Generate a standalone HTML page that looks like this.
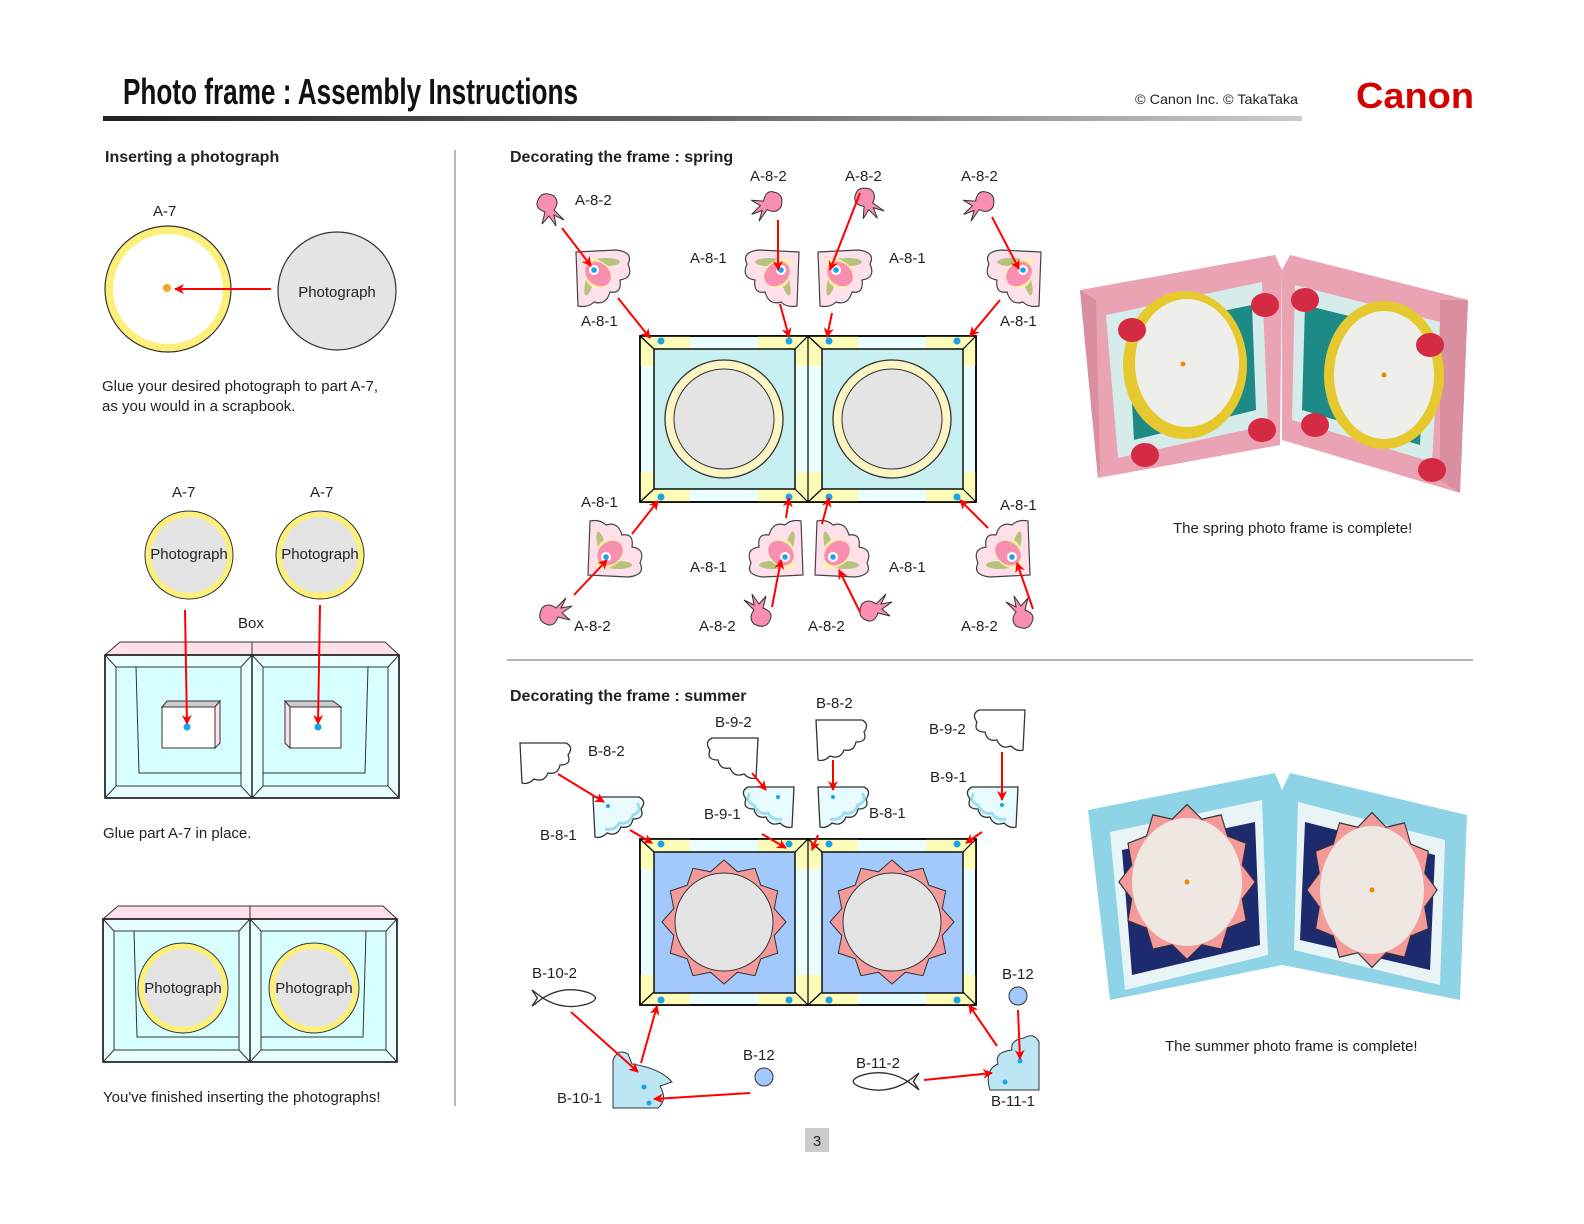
<!DOCTYPE html>
<html><head><meta charset="utf-8"><style>
html,body{margin:0;padding:0;background:#fff;}
svg{display:block;}
text{font-family:"Liberation Sans",sans-serif;fill:#222;}
.lb{font-size:15px;}
.hd{font-size:16px;font-weight:bold;font-family:"Liberation Sans Narrow","Liberation Sans",sans-serif;}
.bd{font-size:15px;}
</style></head><body>
<svg width="1584" height="1224" viewBox="0 0 1584 1224" xmlns="http://www.w3.org/2000/svg">
<defs>
<marker id="ar" markerWidth="10" markerHeight="10" refX="9" refY="5" orient="auto" markerUnits="userSpaceOnUse"><path d="M0,0 L10,5 L0,10 L3,5 Z" fill="#f00"/></marker>
<linearGradient id="ul" x1="0" x2="1"><stop offset="0" stop-color="#222"/><stop offset="0.5" stop-color="#666"/><stop offset="1" stop-color="#ccc"/></linearGradient>
<g id="flower">
<path d="M0,2 L40,0 Q58,2 52,14 Q58,28 44,30 Q46,44 34,42 Q30,56 18,52 Q12,58 2,56 Z" fill="#fde0ea" stroke="#444" stroke-width="1.2"/>
<ellipse cx="14" cy="30" rx="4" ry="16" fill="#b7c27e" transform="rotate(15 14 30)"/>
<ellipse cx="30" cy="12" rx="14" ry="4" fill="#b7c27e"/>
<path d="M8,10 Q20,4 34,18 Q40,32 26,38 Q14,40 10,30 Z" fill="#fff6a8" opacity="0.8"/>
<ellipse cx="22" cy="24" rx="14" ry="11" fill="#f98fb0" transform="rotate(40 22 24)"/>
<circle cx="18" cy="20" r="5" fill="#fff"/><circle cx="18" cy="20" r="2.8" fill="#1aa3e8"/>
</g>
<g id="bud">
<path d="M-10,-6 Q-6,-16 6,-10 Q12,-4 6,4 L16,14 L6,9 L8,20 L1,10 L-6,18 L-3,6 Q-14,2 -10,-6 Z" fill="#f98fb0" stroke="#333" stroke-width="1"/>
</g>
<g id="cloudO">
<path d="M0,0 L46,0 Q54,4 48,12 Q52,22 40,22 Q38,32 28,30 Q24,40 14,36 Q8,42 2,40 Z" fill="#fff" stroke="#333" stroke-width="1.3"/>
</g>
<g id="cloudF">
<path d="M0,0 L46,0 Q54,4 48,12 Q52,22 40,22 Q38,32 28,30 Q24,40 14,36 Q8,42 2,40 Z" fill="#e8fbff" stroke="#333" stroke-width="1.3"/>
<path d="M44,6 Q50,14 40,18 Q36,28 26,26 Q22,34 12,32" fill="none" stroke="#9fdcf0" stroke-width="3"/>
</g>
<g id="fish">
<path d="M0,0 L8,6 Q24,-4 42,2 Q52,6 42,10 Q24,16 8,6 L0,12 L4,6 Z" fill="#fff" stroke="#333" stroke-width="1"/>
</g>
<g id="fb">
<rect x="0" y="0" width="336" height="166" fill="#eafdff" stroke="#000" stroke-width="1.6"/>
<path d="M0,0 L50,0 L50,13 L14,13 L14,30 L0,30 Z M168,0 L118,0 L118,13 L155,13 L155,30 L168,30 Z M168,0 L218,0 L218,13 L182,13 L182,30 L168,30 Z M336,0 L286,0 L286,13 L323,13 L323,30 L336,30 Z" fill="#fdfbb8"/>
<path d="M0,166 L50,166 L50,153 L14,153 L14,136 L0,136 Z M168,166 L118,166 L118,153 L155,153 L155,136 L168,136 Z M168,166 L218,166 L218,153 L182,153 L182,136 L168,136 Z M336,166 L286,166 L286,153 L323,153 L323,136 L336,136 Z" fill="#fdfbb8"/>
<g fill="none" stroke="#000" stroke-width="1.2">
<rect x="0" y="0" width="336" height="166" stroke-width="1.6"/>
<line x1="168" y1="0" x2="168" y2="166"/>
<line x1="0" y1="0" x2="14" y2="13"/><line x1="168" y1="0" x2="155" y2="13"/><line x1="0" y1="166" x2="14" y2="153"/><line x1="168" y1="166" x2="155" y2="153"/>
<line x1="168" y1="0" x2="182" y2="13"/><line x1="336" y1="0" x2="323" y2="13"/><line x1="168" y1="166" x2="182" y2="153"/><line x1="336" y1="166" x2="323" y2="153"/>
</g>
<g fill="#1aa3e8"><circle cx="21" cy="5" r="3.5"/><circle cx="149" cy="5" r="3.5"/><circle cx="189" cy="5" r="3.5"/><circle cx="317" cy="5" r="3.5"/>
<circle cx="21" cy="161" r="3.5"/><circle cx="149" cy="161" r="3.5"/><circle cx="189" cy="161" r="3.5"/><circle cx="317" cy="161" r="3.5"/></g>
</g>
<polygon id="star" points="0,-62 13.5,-50.2 31,-53.7 36.8,-36.8 53.7,-31 50.2,-13.5 62,0 50.2,13.5 53.7,31 36.8,36.8 31,53.7 13.5,50.2 0,62 -13.5,50.2 -31,53.7 -36.8,36.8 -53.7,31 -50.2,13.5 -62,0 -50.2,-13.5 -53.7,-31 -36.8,-36.8 -31,-53.7 -13.5,-50.2" fill="#f59a9a" stroke="#333" stroke-width="1"/>
<g id="box">
<polygon points="0,13 15,0 147,0 147,13" fill="#ffe0ea" stroke="#333"/>
<polygon points="147,13 147,0 280,0 294,13" fill="#ffe0ea" stroke="#333"/>
<rect x="0" y="13" width="294" height="143" fill="#e8ffff" stroke="#000" stroke-width="1.5"/>
<line x1="147" y1="13" x2="147" y2="156" stroke="#000" stroke-width="1.3"/>
<rect x="11" y="25" width="125" height="119" fill="#d8ffff" stroke="#333"/>
<rect x="158" y="25" width="125" height="119" fill="#d8ffff" stroke="#333"/>
<g stroke="#333" fill="none"><line x1="0" y1="13" x2="11" y2="25"/><line x1="147" y1="13" x2="136" y2="25"/><line x1="0" y1="156" x2="11" y2="144"/><line x1="147" y1="156" x2="136" y2="144"/>
<line x1="147" y1="13" x2="158" y2="25"/><line x1="294" y1="13" x2="283" y2="25"/><line x1="147" y1="156" x2="158" y2="144"/><line x1="294" y1="156" x2="283" y2="144"/>
<polyline points="31,25 34,131 136,131"/><polyline points="263,25 260,131 158,131"/></g>
</g>
</defs>

<text x="123" y="104" font-family="'Liberation Sans Narrow','Liberation Sans',sans-serif" font-weight="bold" font-size="36" textLength="455" lengthAdjust="spacingAndGlyphs" style="fill:#111">Photo frame : Assembly Instructions</text>
<rect x="103" y="116" width="1199" height="5" fill="url(#ul)"/>
<text x="1135" y="104" font-size="14" textLength="163" lengthAdjust="spacingAndGlyphs">© Canon Inc. © TakaTaka</text>
<text x="1356" y="108" font-family="'Liberation Serif',serif" font-weight="bold" font-size="36" textLength="118" lengthAdjust="spacingAndGlyphs" style="fill:#d40000">Canon</text>

<line x1="455" y1="150" x2="455" y2="1106" stroke="#888" stroke-width="1.2"/>
<line x1="507" y1="660" x2="1473" y2="660" stroke="#888" stroke-width="1.2"/>

<text x="105" y="162" class="hd">Inserting a photograph</text>
<text x="153" y="216" class="lb">A-7</text>
<circle cx="168" cy="289" r="63" fill="#fdf07a" stroke="#333" stroke-width="1.2"/>
<circle cx="168" cy="289" r="55" fill="#fff"/>
<circle cx="167" cy="288" r="4" fill="#f5a623"/>
<line x1="271" y1="289" x2="175" y2="289" stroke="#f00" stroke-width="2" marker-end="url(#ar)"/>
<circle cx="337" cy="291" r="59" fill="#e4e4e4" stroke="#333" stroke-width="1.2"/>
<text x="337" y="297" class="bd" text-anchor="middle">Photograph</text>
<text x="102" y="391" class="bd">Glue your desired photograph to part A-7,</text>
<text x="102" y="411" class="bd">as you would in a scrapbook.</text>

<text x="172" y="497" class="lb">A-7</text><text x="310" y="497" class="lb">A-7</text>
<circle cx="189" cy="555" r="44" fill="#fdf07a" stroke="#333"/><circle cx="189" cy="555" r="38" fill="#e4e4e4"/>
<circle cx="320" cy="555" r="44" fill="#fdf07a" stroke="#333"/><circle cx="320" cy="555" r="38" fill="#e4e4e4"/>
<text x="189" y="559" class="bd" text-anchor="middle">Photograph</text>
<text x="320" y="559" class="bd" text-anchor="middle">Photograph</text>
<text x="238" y="628" class="bd">Box</text>
<use href="#box" x="105" y="642"/>
<polygon points="162,707 167,701 220,701 215,707" fill="#ccc" stroke="#333"/>
<polygon points="215,707 220,701 220,743 215,748" fill="#ffe0ea" stroke="#333"/>
<rect x="162" y="707" width="53" height="41" fill="#fff" stroke="#333"/>
<polygon points="290,707 285,701 333,701 341,707" fill="#ccc" stroke="#333"/>
<polygon points="285,701 290,707 290,748 285,743" fill="#ffe0ea" stroke="#333"/>
<rect x="290" y="707" width="51" height="41" fill="#fff" stroke="#333"/>
<line x1="185" y1="610" x2="187" y2="724" stroke="#f00" stroke-width="2" marker-end="url(#ar)"/>
<line x1="320" y1="605" x2="318" y2="724" stroke="#f00" stroke-width="2" marker-end="url(#ar)"/>
<circle cx="187" cy="727" r="3.5" fill="#1aa3e8"/><circle cx="318" cy="727" r="3.5" fill="#1aa3e8"/>
<text x="103" y="838" class="bd">Glue part A-7 in place.</text>

<use href="#box" x="103" y="906"/>
<circle cx="183" cy="988" r="45" fill="#fdf07a" stroke="#333"/><circle cx="183" cy="988" r="39" fill="#e4e4e4"/>
<circle cx="314" cy="988" r="45" fill="#fdf07a" stroke="#333"/><circle cx="314" cy="988" r="39" fill="#e4e4e4"/>
<text x="183" y="993" class="bd" text-anchor="middle">Photograph</text>
<text x="314" y="993" class="bd" text-anchor="middle">Photograph</text>
<text x="103" y="1102" class="bd">You've finished inserting the photographs!</text>

<text x="510" y="162" class="hd">Decorating the frame : spring</text>
<use href="#fb" x="640" y="336"/>
<rect x="654" y="349" width="141" height="140" fill="#c8f0f0" stroke="#000" stroke-width="1.4"/>
<rect x="822" y="349" width="141" height="140" fill="#c8f0f0" stroke="#000" stroke-width="1.4"/>
<circle cx="724" cy="419" r="59" fill="#fdf6c3" stroke="#333" stroke-width="1.3"/><circle cx="724" cy="419" r="50" fill="#e4e4e4" stroke="#333"/>
<circle cx="892" cy="419" r="59" fill="#fdf6c3" stroke="#333" stroke-width="1.3"/><circle cx="892" cy="419" r="50" fill="#e4e4e4" stroke="#333"/>

<use href="#flower" transform="translate(576,250)"/>
<use href="#flower" transform="translate(799,250) scale(-1,1)"/>
<use href="#flower" transform="translate(818,250)"/>
<use href="#flower" transform="translate(1041,250) scale(-1,1)"/>
<use href="#flower" transform="translate(588,577) scale(1,-1)"/>
<use href="#flower" transform="translate(803,577) scale(-1,-1)"/>
<use href="#flower" transform="translate(815,577) scale(1,-1)"/>
<use href="#flower" transform="translate(1030,577) scale(-1,-1)"/>

<use href="#bud" transform="translate(548,206)"/>
<use href="#bud" transform="translate(770,203) rotate(80)"/>
<use href="#bud" transform="translate(866,200) rotate(-10)"/>
<use href="#bud" transform="translate(982,203) rotate(80)"/>
<use href="#bud" transform="translate(552,614) rotate(-90)"/>
<use href="#bud" transform="translate(760,614) rotate(180)"/>
<use href="#bud" transform="translate(872,610) rotate(-90)"/>
<use href="#bud" transform="translate(1022,616) rotate(180)"/>

<g stroke="#f00" stroke-width="2" marker-end="url(#ar)">
<line x1="562" y1="228" x2="591" y2="266"/>
<line x1="618" y1="298" x2="650" y2="338"/>
<line x1="778" y1="220" x2="778" y2="270"/>
<line x1="780" y1="304" x2="789" y2="337"/>
<line x1="860" y1="193" x2="830" y2="270"/>
<line x1="832" y1="313" x2="827" y2="337"/>
<line x1="992" y1="217" x2="1019" y2="269"/>
<line x1="1000" y1="300" x2="970" y2="336"/>
<line x1="574" y1="595" x2="607" y2="560"/>
<line x1="632" y1="534" x2="658" y2="501"/>
<line x1="786" y1="518" x2="789" y2="498"/>
<line x1="772" y1="607" x2="781" y2="560"/>
<line x1="822" y1="524" x2="829" y2="498"/>
<line x1="860" y1="612" x2="839" y2="570"/>
<line x1="988" y1="528" x2="960" y2="500"/>
<line x1="1033" y1="609" x2="1017" y2="563"/>
</g>

<text x="575" y="205" class="lb">A-8-2</text><text x="750" y="181" class="lb">A-8-2</text><text x="845" y="181" class="lb">A-8-2</text><text x="961" y="181" class="lb">A-8-2</text>
<text x="690" y="263" class="lb">A-8-1</text><text x="889" y="263" class="lb">A-8-1</text>
<text x="581" y="326" class="lb">A-8-1</text><text x="1000" y="326" class="lb">A-8-1</text>
<text x="581" y="507" class="lb">A-8-1</text><text x="1000" y="510" class="lb">A-8-1</text>
<text x="690" y="572" class="lb">A-8-1</text><text x="889" y="572" class="lb">A-8-1</text>
<text x="574" y="631" class="lb">A-8-2</text><text x="699" y="631" class="lb">A-8-2</text><text x="808" y="631" class="lb">A-8-2</text><text x="961" y="631" class="lb">A-8-2</text>

<polygon points="1080,290 1275,255 1282,270 1280,445 1098,478" fill="#eaa3b3"/>
<polygon points="1080,290 1098,478 1100,470 1096,300" fill="#d98f9f"/>
<polygon points="1106,315 1262,282 1268,425 1118,458" fill="#d5ecea"/>
<polygon points="1128,330 1252,305 1256,410 1134,440" fill="#1d8a86"/>
<ellipse cx="1185" cy="365" rx="62" ry="74" fill="#e6c92e"/>
<ellipse cx="1187" cy="363" rx="52" ry="64" fill="#eeeeea"/>
<circle cx="1183" cy="364" r="2.5" fill="#f08a00"/>
<polygon points="1282,270 1290,255 1468,300 1460,493 1282,440" fill="#eaa3b3"/>
<polygon points="1440,300 1468,300 1460,493 1440,480" fill="#d98f9f"/>
<polygon points="1295,285 1440,322 1432,462 1292,420" fill="#d5ecea"/>
<polygon points="1305,305 1425,335 1420,445 1302,410" fill="#1d8a86"/>
<ellipse cx="1384" cy="375" rx="60" ry="74" fill="#e6c92e"/>
<ellipse cx="1384" cy="375" rx="50" ry="64" fill="#eeeeea"/>
<circle cx="1384" cy="375" r="2.5" fill="#f08a00"/>
<g fill="#d42a44"><ellipse cx="1132" cy="330" rx="14" ry="12"/><ellipse cx="1265" cy="305" rx="14" ry="12"/><ellipse cx="1305" cy="300" rx="14" ry="12"/><ellipse cx="1430" cy="345" rx="14" ry="12"/><ellipse cx="1145" cy="455" rx="14" ry="12"/><ellipse cx="1262" cy="430" rx="14" ry="12"/><ellipse cx="1315" cy="425" rx="14" ry="12"/><ellipse cx="1432" cy="470" rx="14" ry="12"/></g>
<text x="1173" y="533" class="bd">The spring photo frame is complete!</text>

<text x="510" y="701" class="hd">Decorating the frame : summer</text>
<use href="#fb" x="640" y="839"/>
<rect x="654" y="852" width="141" height="141" fill="#a3c8fb" stroke="#000" stroke-width="1.4"/>
<rect x="822" y="852" width="141" height="141" fill="#a3c8fb" stroke="#000" stroke-width="1.4"/>
<use href="#star" transform="translate(724,922)"/><circle cx="724" cy="922" r="49" fill="#e4e4e4" stroke="#333"/>
<use href="#star" transform="translate(892,922)"/><circle cx="892" cy="922" r="49" fill="#e4e4e4" stroke="#333"/>

<use href="#cloudO" transform="translate(520,743)"/>
<use href="#cloudO" transform="translate(758,738) scale(-1,1)"/>
<use href="#cloudO" transform="translate(816,720)"/>
<use href="#cloudO" transform="translate(1025,710) scale(-1,1)"/>
<use href="#cloudF" transform="translate(593,797)"/>
<use href="#cloudF" transform="translate(794,787) scale(-1,1)"/>
<use href="#cloudF" transform="translate(818,787)"/>
<use href="#cloudF" transform="translate(1018,787) scale(-1,1)"/>
<g fill="#1aa3e8"><circle cx="608" cy="806" r="2"/><circle cx="778" cy="797" r="2"/><circle cx="833" cy="797" r="2"/><circle cx="1002" cy="805" r="2"/></g>

<use href="#fish" transform="translate(532,990) scale(1.35)"/>
<use href="#fish" transform="translate(919,1073) scale(-1.4,1.4)"/>
<circle cx="1018" cy="996" r="9" fill="#a3c8fb" stroke="#333"/>
<circle cx="764" cy="1077" r="9" fill="#a3c8fb" stroke="#333"/>
<path d="M613,1108 L613,1060 Q618,1048 628,1054 L632,1064 Q660,1068 672,1082 L660,1086 Q668,1100 658,1108 Z" fill="#bde6f5" stroke="#333"/>
<path d="M1039,1090 L1039,1042 Q1034,1032 1024,1038 Q1010,1040 1012,1050 Q994,1052 998,1064 Q984,1070 990,1090 Z" fill="#bde6f5" stroke="#333"/>
<circle cx="644" cy="1087" r="2.5" fill="#1aa3e8"/><circle cx="649" cy="1103" r="2.5" fill="#1aa3e8"/>
<circle cx="1020" cy="1061" r="2.5" fill="#1aa3e8"/><circle cx="1005" cy="1082" r="2.5" fill="#1aa3e8"/>

<g stroke="#f00" stroke-width="2" marker-end="url(#ar)">
<line x1="558" y1="774" x2="604" y2="802"/>
<line x1="630" y1="830" x2="652" y2="843"/>
<line x1="752" y1="773" x2="766" y2="790"/>
<line x1="762" y1="834" x2="786" y2="848"/>
<line x1="833" y1="760" x2="833" y2="790"/>
<line x1="818" y1="835" x2="812" y2="850"/>
<line x1="1002" y1="752" x2="1002" y2="800"/>
<line x1="982" y1="832" x2="966" y2="843"/>
<line x1="571" y1="1012" x2="638" y2="1072"/>
<line x1="641" y1="1063" x2="657" y2="1006"/>
<line x1="750" y1="1093" x2="654" y2="1099"/>
<line x1="1018" y1="1010" x2="1020" y2="1059"/>
<line x1="997" y1="1046" x2="969" y2="1005"/>
<line x1="924" y1="1080" x2="992" y2="1073"/>
</g>

<text x="588" y="756" class="lb">B-8-2</text><text x="715" y="727" class="lb">B-9-2</text><text x="816" y="708" class="lb">B-8-2</text><text x="929" y="734" class="lb">B-9-2</text>
<text x="930" y="782" class="lb">B-9-1</text><text x="704" y="819" class="lb">B-9-1</text><text x="869" y="818" class="lb">B-8-1</text><text x="540" y="840" class="lb">B-8-1</text>
<text x="532" y="978" class="lb">B-10-2</text><text x="1002" y="979" class="lb">B-12</text><text x="743" y="1060" class="lb">B-12</text><text x="856" y="1068" class="lb">B-11-2</text>
<text x="557" y="1103" class="lb">B-10-1</text><text x="991" y="1106" class="lb">B-11-1</text>

<polygon points="1088,810 1275,773 1282,790 1282,965 1110,1000" fill="#8fd4e6"/>
<polygon points="1110,832 1262,800 1268,955 1125,990" fill="#e8f4f6"/>
<polygon points="1122,850 1255,822 1260,945 1132,975" fill="#1d2a6e"/>
<polygon points="1282,790 1290,773 1467,815 1460,1000 1282,965" fill="#8fd4e6"/>
<polygon points="1298,802 1445,840 1440,985 1294,950" fill="#e8f4f6"/>
<polygon points="1305,822 1435,855 1430,970 1300,940" fill="#1d2a6e"/>
<use href="#star" transform="translate(1187,882) scale(1.1,1.25)"/>
<ellipse cx="1187" cy="882" rx="55" ry="64" fill="#efe8e2"/>
<circle cx="1187" cy="882" r="2.5" fill="#f08a00"/>
<use href="#star" transform="translate(1372,890) scale(1.05,1.25)"/>
<ellipse cx="1372" cy="890" rx="52" ry="64" fill="#efe8e2"/>
<circle cx="1372" cy="890" r="2.5" fill="#f08a00"/>
<text x="1165" y="1051" class="bd">The summer photo frame is complete!</text>

<rect x="805" y="1128" width="24" height="24" fill="#ccc"/>
<text x="817" y="1146" class="bd" text-anchor="middle">3</text>
</svg>
</body></html>
